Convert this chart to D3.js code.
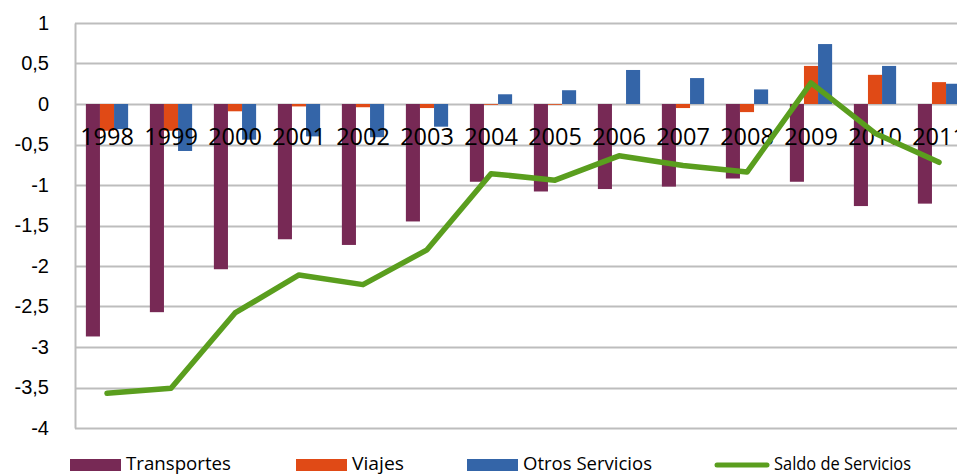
<!DOCTYPE html>
<html>
<head>
<meta charset="utf-8">
<script src="https://cdn.jsdelivr.net/npm/d3@7"></script>
<style>
  body { margin: 0; background: #fff; }
  svg { display: block; font-family: "Open Sans", "Liberation Sans", sans-serif; }
</style>
</head>
<body>
<div id="chart"></div>
<script>
var years = ["1998","1999","2000","2001","2002","2003","2004","2005","2006","2007","2008","2009","2010","2011"]
var transportes = [-2.87,-2.57,-2.04,-1.67,-1.74,-1.45,-0.96,-1.08,-1.05,-1.02,-0.92,-0.96,-1.26,-1.23]
var viajes = [-0.33,-0.33,-0.09,-0.03,-0.04,-0.05,-0.01,-0.01,0,-0.05,-0.10,0.47,0.36,0.27]
var otros = [-0.31,-0.58,-0.44,-0.40,-0.41,-0.28,0.12,0.17,0.42,0.32,0.18,0.74,0.47,0.25]
var saldo = [-3.57,-3.51,-2.58,-2.11,-2.23,-1.80,-0.86,-0.94,-0.64,-0.76,-0.84,0.26,-0.36,-0.72]
var yTicks = [1,0.5,0,-0.5,-1,-1.5,-2,-2.5,-3,-3.5,-4]

var seriesNames = ["Transportes","Viajes","Otros Servicios"]
var seriesColors = ["#772955","#E04A16","#3465A8"]
var lineName = "Saldo de Servicios"
var lineColor = "#5A9E1E"

var W = 957, H = 475
var margin = {top: 23, left: 75, bottom: 47}
var bandW = 64

var svg = d3.select("#chart").append("svg")
    .attr("width", W)
    .attr("height", H)

var x = d3.scaleBand()
    .domain(years)
    .range([margin.left, margin.left + bandW * years.length])
    .paddingInner(0.34)
    .paddingOuter(0.17)

var x1 = d3.scaleBand()
    .domain(d3.range(3))
    .range([0, x.bandwidth()])

var y = d3.scaleLinear()
    .domain([-4, 1])
    .range([H - margin.bottom, margin.top])

var fmt = function(d) { return String(d).replace(".", ",") }

// gridlines
svg.append("g").selectAll("line")
    .data(yTicks)
    .enter().append("line")
    .attr("x1", margin.left)
    .attr("x2", W)
    .attr("y1", function(d) { return Math.round(y(d)) + 0.5 })
    .attr("y2", function(d) { return Math.round(y(d)) + 0.5 })
    .attr("stroke", "#bdbdbd")
    .attr("stroke-width", 2)

var yAxis = d3.axisLeft(y).tickValues(yTicks).tickFormat(fmt).tickSize(0).tickPadding(26)
var gy = svg.append("g")
    .attr("transform", "translate(" + margin.left + ",0)")
    .call(yAxis)
gy.select(".domain").attr("stroke", "#bdbdbd").attr("stroke-width", 2)
gy.selectAll("text")
    .style("font-size", "20px")
    .attr("fill", "#000")

// bars
var allSeries = [transportes, viajes, otros]
allSeries.forEach(function(vals, s) {
    svg.append("g").selectAll("rect")
        .data(vals)
        .enter().append("rect")
        .attr("x", function(d, i) { return x(years[i]) + x1(s) })
        .attr("width", x1.bandwidth())
        .attr("y", function(d) { return y(Math.max(0, d)) })
        .attr("height", function(d) { return Math.abs(y(d) - y(0)) })
        .attr("fill", seriesColors[s])
})

// category labels next to the zero line
svg.append("g").selectAll("text")
    .data(years)
    .enter().append("text")
    .attr("x", function(d) { return x(d) + x.bandwidth() / 2 })
    .attr("y", y(0) + 35)
    .attr("text-anchor", "middle")
    .attr("dominant-baseline", "middle")
    .style("font-size", "23.5px")
    .attr("fill", "#000")
    .text(function(d) { return d })

// saldo line
var line = d3.line()
    .x(function(d, i) { return x(years[i]) + x.bandwidth() / 2 })
    .y(function(d) { return y(d) })

svg.append("path")
    .datum(saldo)
    .attr("d", line)
    .attr("fill", "none")
    .attr("stroke", lineColor)
    .attr("stroke-width", 5.5)
    .attr("stroke-linejoin", "round")
    .attr("stroke-linecap", "round")

// legend
var legY = 465
var legPos = [70, 296, 467]
var legText = [105, 52, 129]
seriesNames.forEach(function(name, i) {
    svg.append("rect")
        .attr("x", legPos[i]).attr("y", legY - 6)
        .attr("width", 51).attr("height", 12)
        .attr("fill", seriesColors[i])
    svg.append("text")
        .attr("x", legPos[i] + 56).attr("y", legY)
        .attr("dominant-baseline", "middle")
        .attr("textLength", legText[i])
        .attr("lengthAdjust", "spacingAndGlyphs")
        .style("font-size", "18px")
        .text(name)
})
svg.append("line")
    .attr("x1", 717).attr("x2", 767)
    .attr("y1", legY).attr("y2", legY)
    .attr("stroke", lineColor).attr("stroke-width", 5)
    .attr("stroke-linecap", "round")
svg.append("text")
    .attr("x", 774).attr("y", legY)
    .attr("dominant-baseline", "middle")
    .attr("textLength", 137)
    .attr("lengthAdjust", "spacingAndGlyphs")
    .style("font-size", "18px")
    .text(lineName)
</script>
</body>
</html>
